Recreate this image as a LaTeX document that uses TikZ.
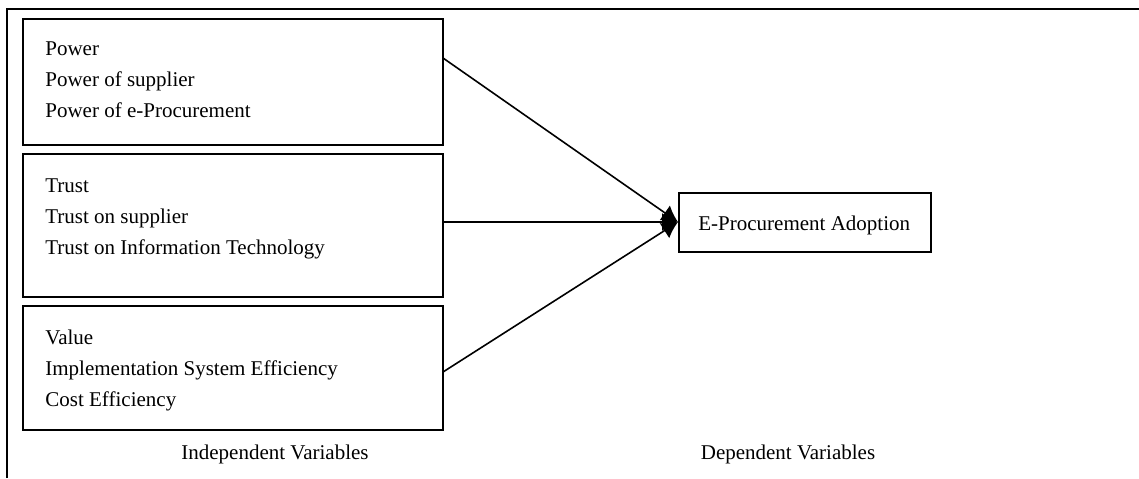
\documentclass[tikz,border=0pt]{standalone}
\usepackage{fontspec}
\setmainfont{Liberation Serif}
\usetikzlibrary{arrows.meta,positioning}
\tikzset{
    varbox/.style={draw=black, line width=1pt},
    vartext/.style={anchor=north west, align=left, font=\fontsize{10.5}{15.5}\selectfont, inner sep=0pt},
    link/.style={draw=black, line width=0.8pt, -{Latex[length=8pt,width=9pt]}},
    caption/.style={font=\fontsize{10.5}{12}\selectfont, inner sep=0pt},
}

\begin{document}
\begin{tikzpicture}[x=0.5pt, y=-0.5pt]
	\useasboundingbox (0,0) rectangle (1139,478);
	% frame
	\draw[line width=1pt] (7,478) -- (7,9) -- (1139,9);
	%
	\draw[varbox] (23,19) rectangle (443,145);
	\draw[varbox] (23,154) rectangle (443,297);
	\draw[varbox] (23,306) rectangle (443,430);
	\node[vartext] (power) at (45,41) {Power\\Power of supplier\\Power of e-Procurement};
	\node[vartext] (trust) at (45,178) {Trust\\Trust on supplier\\Trust on Information Technology};
	\node[vartext] (value) at (45,330) {Value\\Implementation System Efficiency\\Cost Efficiency};
	%
	\node[draw=black, line width=1pt, minimum width=126pt, minimum height=29.5pt,
		anchor=west, inner sep=0pt] (adopt) at (678,222) {};
	\node[vartext, anchor=west] (adopttext) at (698,225) {E-Procurement Adoption};
	%
	\coordinate (p1) at (443,58);
	\coordinate (p2) at (443,222);
	\coordinate (p3) at (443,372);
	\draw[link] (p1) -- (adopt.west);
	\draw[link] (p2) -- (adopt.west);
	\draw[link] (p3) -- (adopt.west);
	%
	\node[caption] (indep) at (275,454) {Independent Variables};
	\node[caption] (dep) at (788,454) {Dependent Variables};
 \end{tikzpicture}
\end{document}
